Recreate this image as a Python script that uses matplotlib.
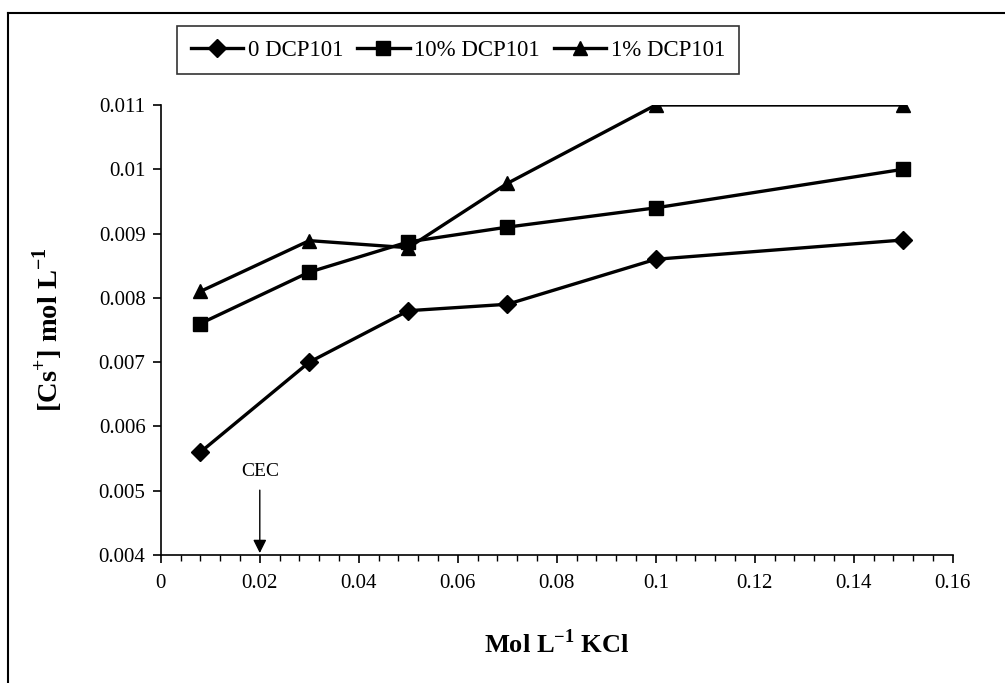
import matplotlib
matplotlib.use("Agg")
import matplotlib.pyplot as plt
from matplotlib.ticker import MultipleLocator
from matplotlib.lines import Line2D

kcl = [0.008, 0.03, 0.05, 0.07, 0.1, 0.15]
dcp0 = [0.0056, 0.0070, 0.0078, 0.0079, 0.0086, 0.0089]
dcp10 = [0.0076, 0.0084, 0.00887, 0.0091, 0.0094, 0.0100]
dcp1 = [0.0081, 0.00889, 0.00878, 0.00978, 0.0110, 0.0110]
labels = ["0 DCP101", "10% DCP101", "1% DCP101"]
xticks = [0, 0.02, 0.04, 0.06, 0.08, 0.1, 0.12, 0.14, 0.16]
yticks = [0.004, 0.005, 0.006, 0.007, 0.008, 0.009, 0.01, 0.011]

plt.rcParams['font.family'] = ['Liberation Serif', 'DejaVu Serif']
plt.rcParams['mathtext.fontset'] = 'custom'
plt.rcParams['mathtext.rm'] = 'Liberation Serif'
plt.rcParams['mathtext.bf'] = 'Liberation Serif:bold'

fig = plt.figure(figsize=(10.05, 6.83), dpi=100)
ax = fig.add_axes([0.160, 0.1874, 0.788, 0.6589])

ax.plot(kcl, dcp0, color='black', lw=2.4, marker='D', markersize=9.5, label=labels[0])
ax.plot(kcl, dcp10, color='black', lw=2.4, marker='s', markersize=9.5, label=labels[1])
ax.plot(kcl, dcp1, color='black', lw=2.4, marker='^', markersize=10.5, label=labels[2])

ax.set_xlim(0, 0.16)
ax.set_ylim(0.004, 0.011)
ax.set_xticks(xticks)
ax.set_xticklabels([f"{v:g}" for v in xticks])
ax.set_yticks(yticks)
ax.set_yticklabels([f"{v:g}" for v in yticks])
ax.xaxis.set_minor_locator(MultipleLocator(0.004))
ax.spines['top'].set_visible(False)
ax.spines['right'].set_visible(False)
for s in ['left', 'bottom']:
    ax.spines[s].set_linewidth(1.2)
ax.tick_params(axis='both', which='major', direction='out', length=6, width=1.2, labelsize=15)
ax.tick_params(axis='x', which='major', pad=8)
ax.tick_params(axis='y', which='major', pad=5)
ax.tick_params(axis='x', which='minor', direction='out', length=4, width=1.0)

ax.set_xlabel("Mol L$^{\\mathbf{-1}}$ KCl", fontsize=19, fontweight='bold', labelpad=26)
ax.set_ylabel("[Cs$^{\\mathbf{+}}$] mol L$^{\\mathbf{-1}}$", fontsize=20.5, fontweight='bold', labelpad=24)

ax.annotate("CEC", xy=(0.02, 0.00403), xytext=(0.02, 0.00516),
            ha='center', va='bottom', fontsize=14,
            arrowprops=dict(arrowstyle='-|>', color='black', lw=1.0,
                            mutation_scale=20, shrinkA=5, shrinkB=0))

leg = fig.legend(loc='upper left', bbox_to_anchor=(0.176, 0.962), ncol=3,
                 frameon=True, fancybox=False, edgecolor='black', fontsize=16.5,
                 handlelength=2.3, columnspacing=0.6, handletextpad=0.2,
                 borderpad=0.6, borderaxespad=0)
leg.get_frame().set_linewidth(1.2)

# outer frame (left and top visible)
fig.add_artist(Line2D([0.008, 0.008], [0.0, 0.981], transform=fig.transFigure, color='black', lw=1.5))
fig.add_artist(Line2D([0.008, 1.0], [0.981, 0.981], transform=fig.transFigure, color='black', lw=1.5))

fig.savefig("out.png", dpi=100)
